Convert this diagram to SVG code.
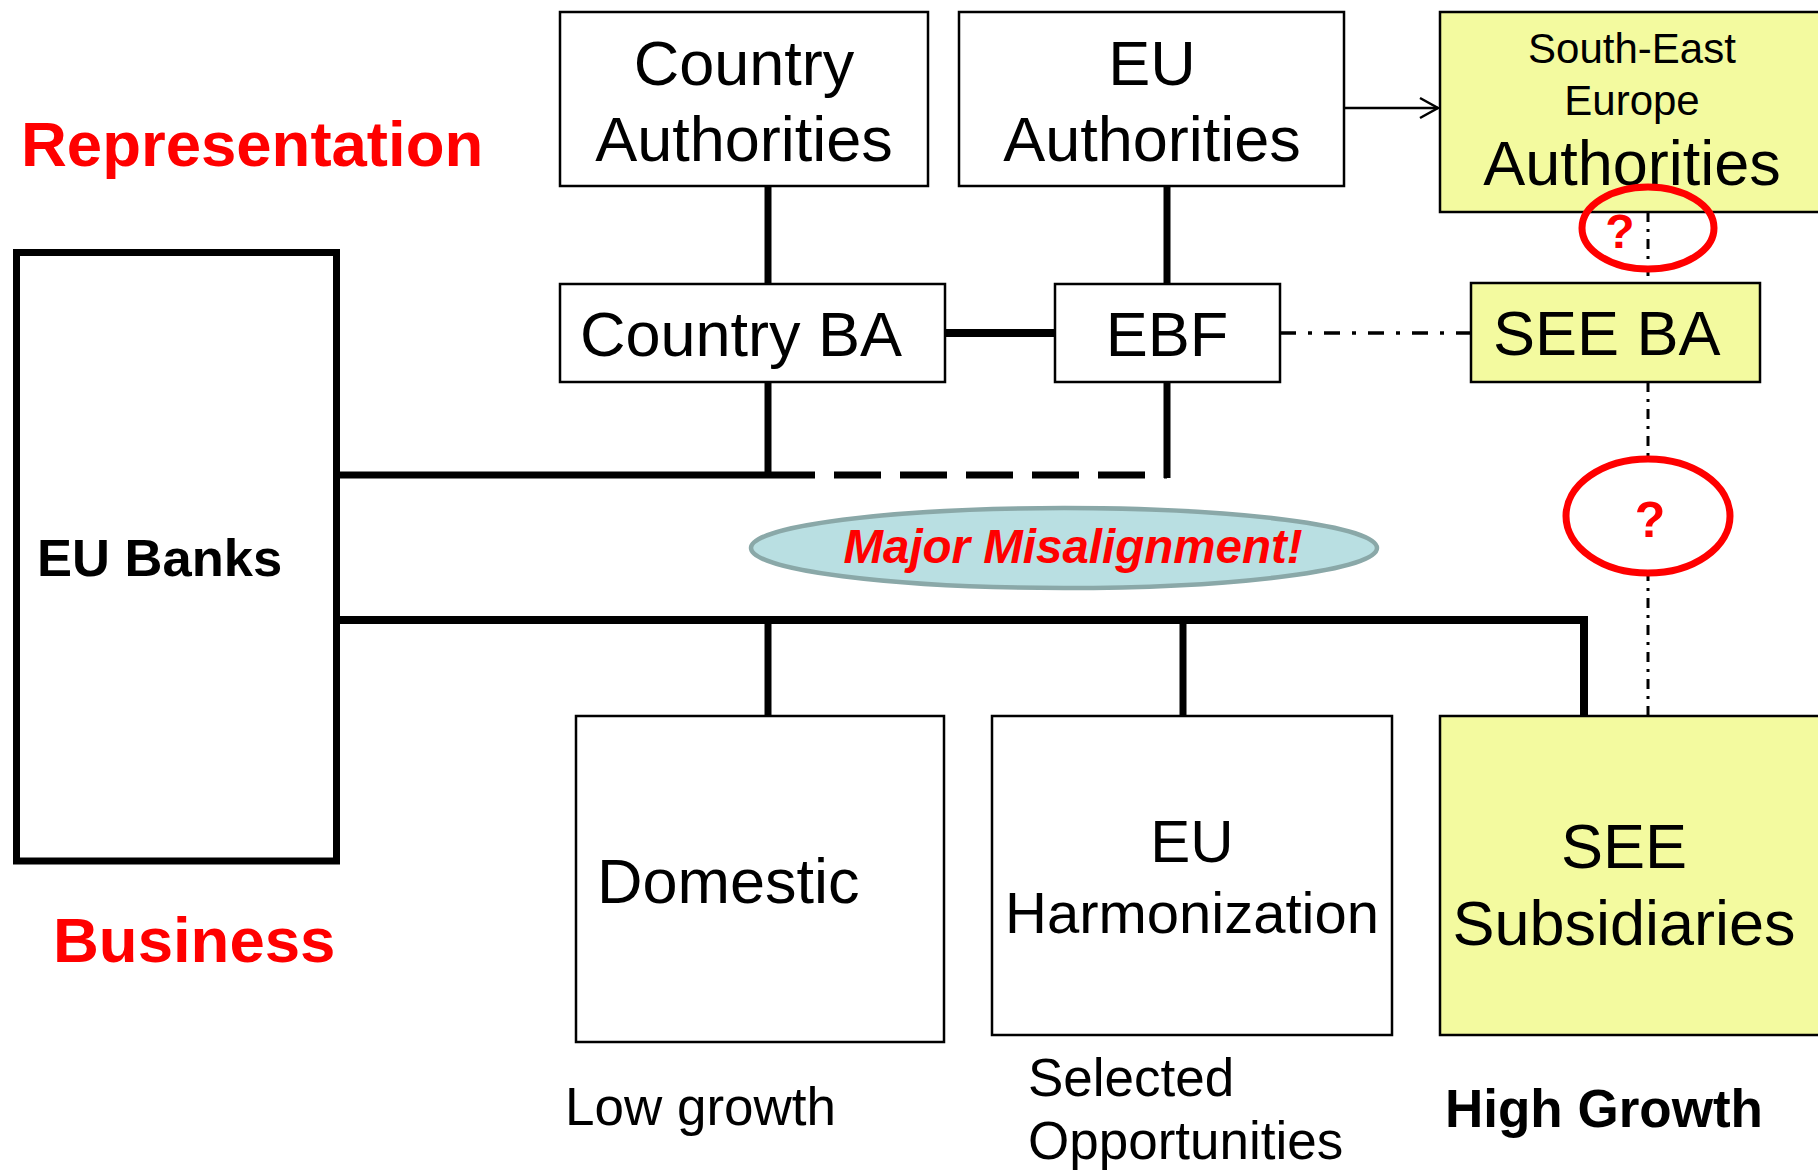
<svg xmlns="http://www.w3.org/2000/svg" width="1818" height="1170" viewBox="0 0 1818 1170">
<defs>
<style>
text{font-family:"Liberation Sans",Arial,sans-serif;fill:#000}
.box{fill:#fff;stroke:#000;stroke-width:2.5}
.ybox{fill:#f3fa9f;stroke:#000;stroke-width:2.5}
.t63{font-size:63px}
.mid{text-anchor:middle}
.red{fill:#ff0000;font-weight:bold}
.thick{stroke:#000;stroke-width:7;fill:none}
.dd{stroke:#000;stroke-width:3.5;fill:none;stroke-dasharray:16 12 4 12}
.vdd{stroke:#000;stroke-width:3;fill:none;stroke-dasharray:10 7 3 7}
.q{fill:none;stroke:#ff0000;stroke-width:7}
</style>
</defs>
<rect width="1818" height="1170" fill="#fff"/>

<g id="connectors">
<line class="thick" x1="768" y1="186" x2="768" y2="284"/>
<line class="thick" x1="1167" y1="186" x2="1167" y2="284"/>
<line class="thick" x1="945" y1="333" x2="1055" y2="333" style="stroke-width:8"/>
<line class="thick" x1="768" y1="382" x2="768" y2="478"/>
<line class="thick" x1="1167" y1="382" x2="1167" y2="478"/>
<line class="thick" x1="340" y1="475" x2="768" y2="475"/>
<line class="thick" x1="768" y1="475" x2="1167" y2="475" style="stroke-dasharray:47 19"/>
<polyline class="thick" points="340,620 1584,620 1584,716" style="stroke-width:8"/>
<line class="thick" x1="768" y1="620" x2="768" y2="716"/>
<line class="thick" x1="1183" y1="620" x2="1183" y2="716"/>
<line class="dd" x1="1280" y1="333" x2="1471" y2="333"/>
<line class="vdd" x1="1648" y1="212" x2="1648" y2="283"/>
<line class="vdd" x1="1648" y1="382" x2="1648" y2="716"/>
<line x1="1344" y1="108" x2="1438" y2="108" stroke="#000" stroke-width="2.5"/>
<polyline points="1420,98 1438,108 1420,118" fill="none" stroke="#000" stroke-width="2.5"/>
</g>

<g id="representation-label"><text x="21" y="166" class="red" style="font-size:63.5px">Representation</text></g>
<g id="business-label"><text x="53" y="962" class="red" style="font-size:63.5px">Business</text></g>

<g id="eu-banks">
<rect x="16.5" y="252.5" width="320" height="608.5" fill="#fff" stroke="#000" stroke-width="7"/>
<text x="37" y="576" style="font-size:52.5px;font-weight:bold">EU Banks</text>
</g>

<g id="country-authorities">
<rect class="box" x="560" y="12" width="368" height="174"/>
<text class="t63 mid" x="744" y="85">Country</text>
<text class="t63 mid" x="744" y="161">Authorities</text>
</g>

<g id="eu-authorities">
<rect class="box" x="959" y="12" width="385" height="174"/>
<text class="t63 mid" x="1152" y="85">EU</text>
<text class="t63 mid" x="1152" y="161">Authorities</text>
</g>

<g id="see-authorities">
<rect class="ybox" x="1440" y="12" width="400" height="200"/>
<text class="mid" x="1632" y="63" style="font-size:42px">South-East</text>
<text class="mid" x="1632" y="115" style="font-size:42px">Europe</text>
<text class="t63 mid" x="1632" y="185">Authorities</text>
</g>

<g id="country-ba">
<rect class="box" x="560" y="284" width="385" height="98"/>
<text class="t63" x="580" y="356">Country BA</text>
</g>

<g id="ebf">
<rect class="box" x="1055" y="284" width="225" height="98"/>
<text class="t63 mid" x="1167" y="356">EBF</text>
</g>

<g id="see-ba">
<rect class="ybox" x="1471" y="283" width="289" height="99"/>
<text class="t63" x="1493" y="355">SEE BA</text>
</g>

<g id="question-1">
<ellipse class="q" cx="1648" cy="228" rx="66" ry="41"/>
<text x="1620" y="248" class="red mid" style="font-size:48px">?</text>
</g>

<g id="question-2">
<ellipse class="q" cx="1648" cy="516" rx="82" ry="57" style="fill:#fff"/>
<text x="1650" y="537" class="red mid" style="font-size:50px">?</text>
</g>

<g id="misalignment">
<ellipse cx="1064" cy="548" rx="313" ry="40" fill="#b9dfe2" stroke="#8aa8a8" stroke-width="4.5"/>
<text x="1073" y="563" class="red mid" style="font-size:47.5px;font-style:italic">Major Misalignment!</text>
</g>

<g id="domestic">
<rect class="box" x="576" y="716" width="368" height="326"/>
<text class="t63" x="597" y="903">Domestic</text>
</g>

<g id="eu-harmonization">
<rect class="box" x="992" y="716" width="400" height="319"/>
<text class="mid" x="1192" y="862" style="font-size:60px">EU</text>
<text class="mid" x="1192" y="933" style="font-size:58px">Harmonization</text>
</g>

<g id="see-subsidiaries">
<rect class="ybox" x="1440" y="716" width="400" height="319"/>
<text class="t63 mid" x="1624" y="868">SEE</text>
<text class="t63 mid" x="1624" y="945">Subsidiaries</text>
</g>

<g id="captions">
<text x="565" y="1125" style="font-size:53px">Low growth</text>
<text x="1028" y="1096" style="font-size:53px">Selected</text>
<text x="1028" y="1159" style="font-size:53px">Opportunities</text>
<text x="1445" y="1127" style="font-size:53px;font-weight:bold">High Growth</text>
</g>
</svg>
